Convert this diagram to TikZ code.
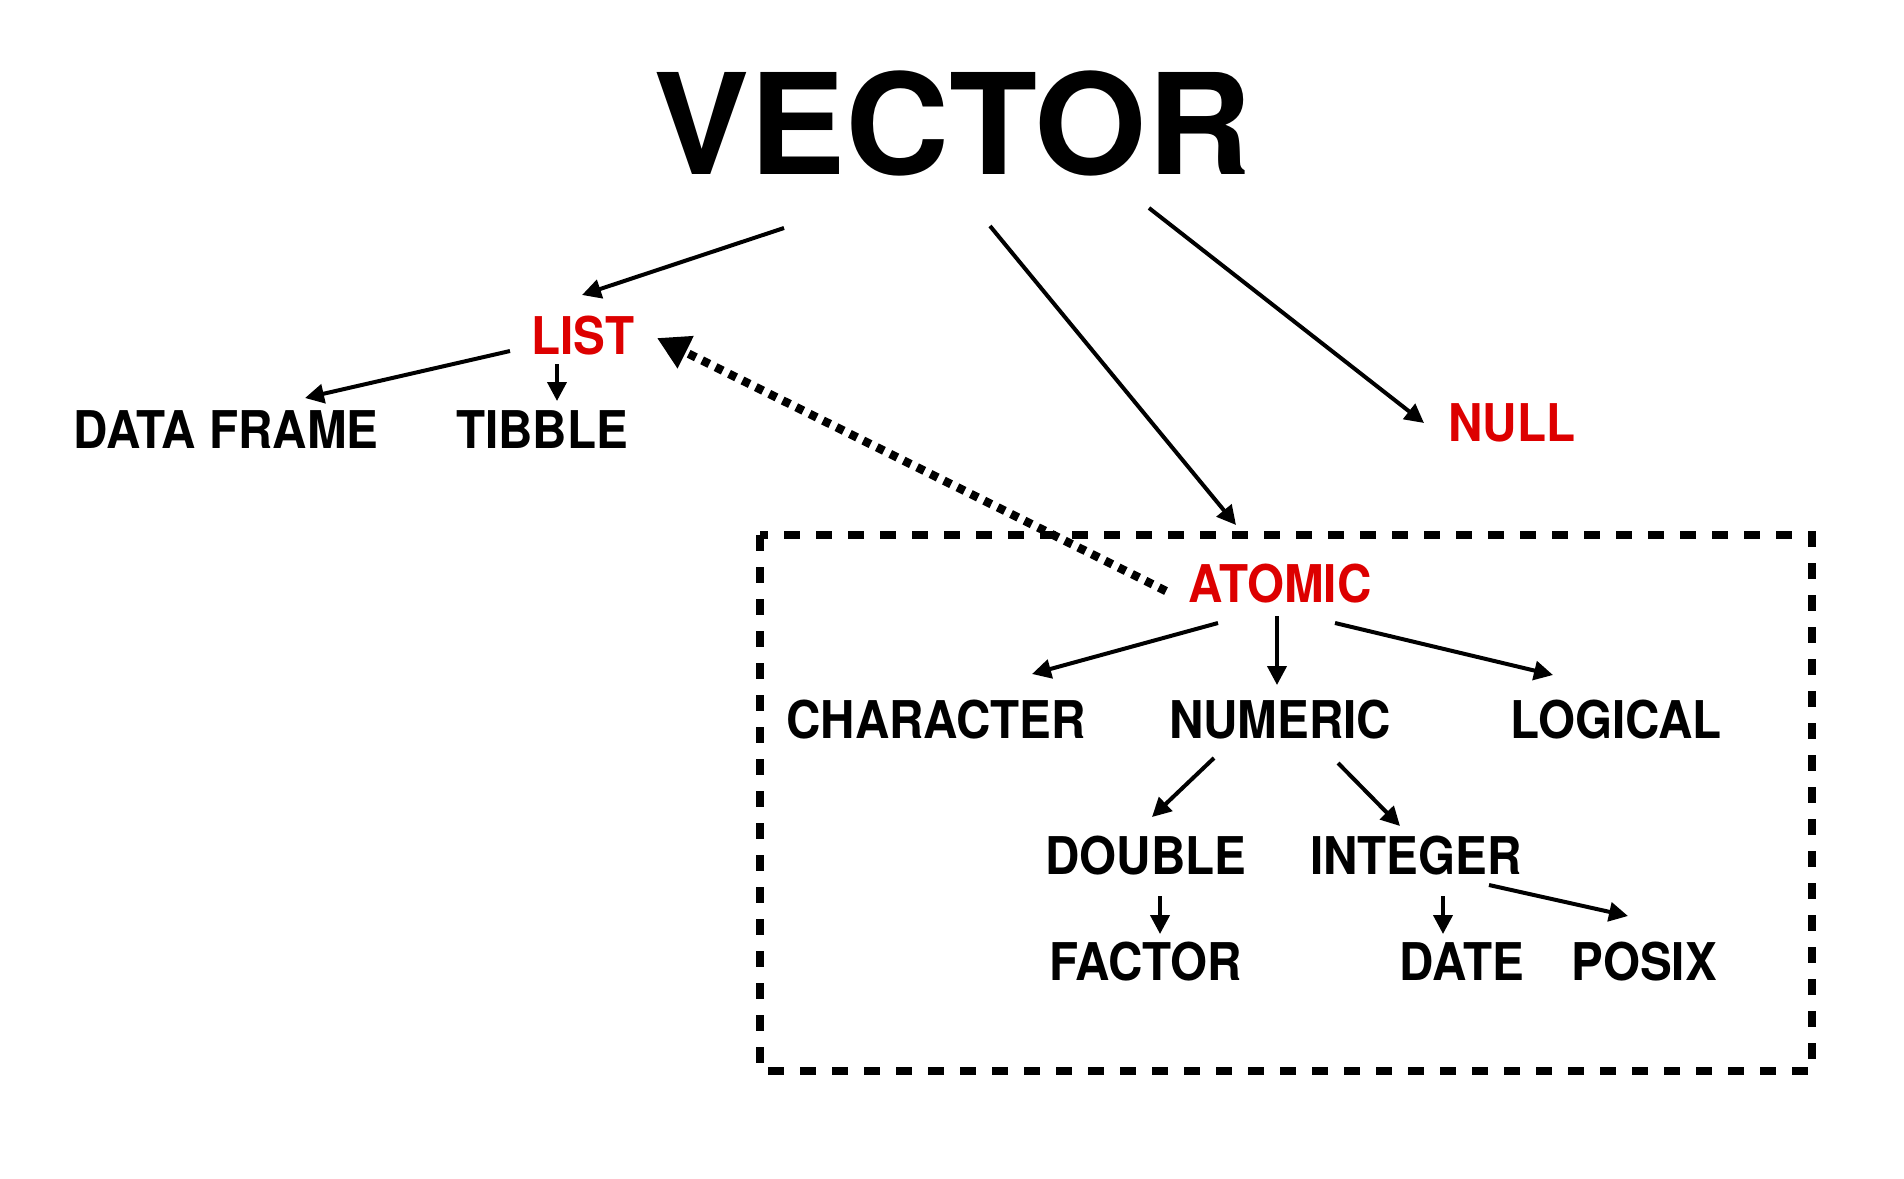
\documentclass[tikz,border=0pt]{standalone}
\usepackage{fontspec}
\setmainfont{TeX Gyre Heros}[FakeStretch=0.915]
\newfontfamily\vecfont{TeX Gyre Heros}[FakeStretch=1.03]
\usetikzlibrary{arrows.meta,calc}
\definecolor{listred}{RGB}{221,0,0}
\tikzset{
  lbl/.style={inner sep=0pt, font=\fontsize{52bp}{58bp}\selectfont\bfseries},
  redlbl/.style={lbl, text=listred},
  arr/.style={line width=4bp, -{Triangle[length=19bp,width=19bp]}},
  dotarr/.style={line width=8.5bp, dash pattern=on 8bp off 7bp, -{Triangle[length=32bp,width=34bp]}},
  boxline/.style={line width=8bp, dash pattern=on 16bp off 16bp}
}
\begin{document}
\begin{tikzpicture}[x=1bp,y=-1bp]
\useasboundingbox[fill=white] (0,0) rectangle (1904,1178);

\node[inner sep=0pt, font=\vecfont\fontsize{140bp}{150bp}\selectfont\bfseries] (vector) at (952,123) {VECTOR};
\node[redlbl] (list) at (583,336) {LIST};
\node[lbl] (df) at (226,430) {DATA FRAME};
\node[lbl] (tibble) at (542,430) {TIBBLE};
\node[redlbl] (null) at (1512,423) {NULL};
\node[redlbl] (atomic) at (1280,584) {ATOMIC};
\node[lbl] (char) at (936,720) {CHARACTER};
\node[lbl] (num) at (1280,720) {NUMERIC};
\node[lbl] (logical) at (1616,720) {LOGICAL};
\node[lbl] (double) at (1146,856) {DOUBLE};
\node[lbl] (integer) at (1416,856) {INTEGER};
\node[lbl] (factor) at (1146,962) {FACTOR};
\node[lbl] (date) at (1462,962) {DATE};
\node[lbl] (posix) at (1644,962) {POSIX};

\draw[boxline] (760,535) rectangle (1812,1071);

\draw[arr] ($(vector)+(-168,105)$) -- ($(list)+(-1,-41)$);
\draw[arr] ($(vector)+(38,103)$) -- ($(atomic)+(-44,-59)$);
\draw[arr] ($(vector)+(197,85)$) -- ($(null)+(-88,0)$);
\draw[arr] ($(list)+(-73,15)$) -- ($(df)+(79,-32)$);
\draw[arr] ($(list)+(-26,28)$) -- ($(tibble)+(15,-29)$);
\draw[dotarr] ($(atomic)+(-114,7)$) -- ($(list)+(74,2)$);
\draw[arr] ($(atomic)+(-62,39)$) -- ($(char)+(96,-46)$);
\draw[arr] ($(atomic)+(-3,32)$) -- ($(num)+(-3,-35)$);
\draw[arr] ($(atomic)+(55,39)$) -- ($(logical)+(-63,-45)$);
\draw[arr] ($(num)+(-66,38)$) -- ($(double)+(6,-39)$);
\draw[arr] ($(num)+(58,43)$) -- ($(integer)+(-16,-30)$);
\draw[arr] ($(double)+(14,40)$) -- ($(factor)+(14,-28)$);
\draw[arr] ($(integer)+(27,40)$) -- ($(date)+(-19,-28)$);
\draw[arr] ($(integer)+(73,29)$) -- ($(posix)+(-16,-46)$);
\end{tikzpicture}
\end{document}
